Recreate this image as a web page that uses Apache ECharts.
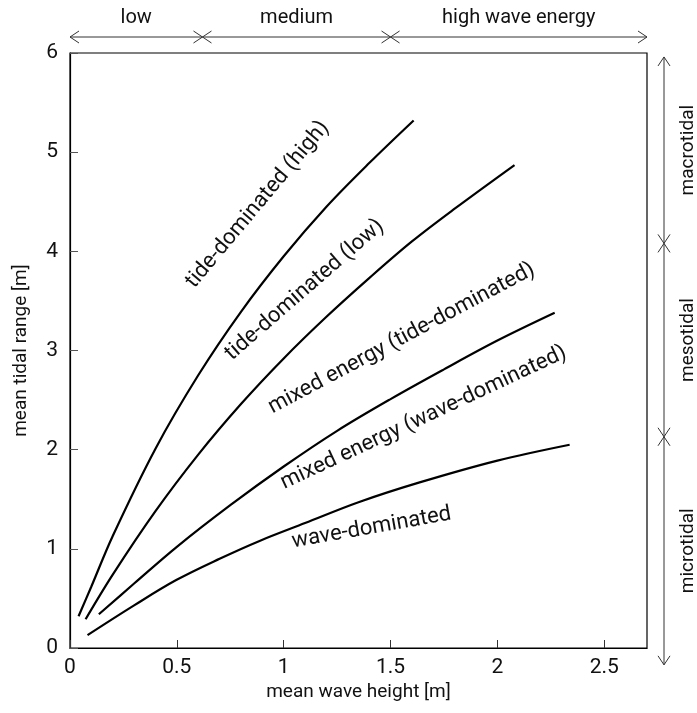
<!DOCTYPE html>
<html><head><meta charset="utf-8">
<script src="https://cdn.jsdelivr.net/npm/echarts@6/dist/echarts.min.js"></script>
<style>html,body{margin:0;padding:0;background:#fff}#c{width:697px;height:713px}</style>
</head><body><div id="c"></div>
<script>
// data (mean wave height [m], mean tidal range [m])
const tideHigh = [[0.04,0.32],[0.1,0.62],[0.2,1.13],[0.4,2.01],[0.6,2.75],[0.8,3.39],[1.0,3.95],[1.2,4.45],[1.4,4.89],[1.608,5.32]];
const tideLow = [[0.073,0.29],[0.2,0.74],[0.4,1.38],[0.6,1.95],[0.8,2.46],[1.0,2.92],[1.2,3.34],[1.4,3.73],[1.6,4.1],[1.8,4.43],[2.08,4.87]];
const mixedTide = [[0.135,0.34],[0.3,0.65],[0.5,1.02],[0.75,1.44],[1.0,1.83],[1.25,2.19],[1.5,2.51],[1.75,2.81],[2.0,3.1],[2.268,3.38]];
const mixedWave = [[0.082,0.13],[0.3,0.43],[0.497,0.685],[0.7,0.9],[0.887,1.08],[1.1,1.26],[1.35,1.47],[1.636,1.67],[2.0,1.89],[2.338,2.05]];
const xTicks = [0, 0.5, 1, 1.5, 2, 2.5];
const yTicks = [0, 1, 2, 3, 4, 5, 6];
const energyBreaks = [0, 0.62, 1.5, 2.7];
const energyNames = ['low', 'medium', 'high wave energy'];
const tidalBreaks = [5.96, 4.08, 2.13, -0.17];
const tidalNames = ['macrotidal', 'mesotidal', 'microtidal'];
const regionLabels = [
  {text:'tide-dominated (high)', at:[0.878,4.47], rot:50},
  {text:'tide-dominated (low)', at:[1.098,3.61], rot:41},
  {text:'mixed energy (tide-dominated)', at:[1.552,3.12], rot:28},
  {text:'mixed energy (wave-dominated)', at:[1.655,2.32], rot:25},
  {text:'wave-dominated', at:[1.411,1.21], rot:10}
];

const FONT = 'Roboto, "Noto Sans", sans-serif';
const chart = echarts.init(document.getElementById('c'));
function line(name, data){
  return {name, type:'line', data, smooth:0.35, showSymbol:false, symbol:'none',
    lineStyle:{color:'#000', width:2.2}, z:3};
}
chart.setOption({
  animation:false,
  backgroundColor:'#fff',
  grid:{left:70, right:50, top:53, bottom:65, show:true, borderColor:'#000', borderWidth:1.2},
  xAxis:{type:'value', min:0, max:2.7, interval:0.5,
    name:'mean wave height [m]', nameLocation:'middle', nameGap:33,
    nameTextStyle:{fontFamily:FONT, fontSize:19, color:'#111'},
    axisLine:{show:true, onZero:false, lineStyle:{color:'#000', width:1.2}},
    axisTick:{show:true, inside:true, length:8, lineStyle:{color:'#333'}},
    axisLabel:{fontFamily:FONT, fontSize:21, color:'#111', margin:9,
      formatter:v=> xTicks.includes(v) ? String(v) : '', showMaxLabel:false},
    splitLine:{show:false}},
  yAxis:{type:'value', min:0, max:6, interval:1,
    name:'mean tidal range [m]', nameLocation:'middle', nameGap:39,
    nameTextStyle:{fontFamily:FONT, fontSize:19, color:'#111'},
    axisLine:{show:true, lineStyle:{color:'#000', width:1.2}},
    axisTick:{show:true, inside:true, length:8, lineStyle:{color:'#555'}},
    axisLabel:{fontFamily:FONT, fontSize:21, color:'#111', margin:12,
      formatter:v=> yTicks.includes(v) ? String(v) : ''},
    splitLine:{show:false}},
  series:[line('tide-dominated (high)', tideHigh), line('tide-dominated (low)', tideLow),
    line('mixed energy (tide-dominated)', mixedTide), line('mixed energy (wave-dominated)', mixedWave)]
});

function px(p){ return chart.convertToPixel({gridIndex:0}, p); }
const g = [];
const stroke = {stroke:'#333', lineWidth:1};
const topY = 37;
for (let i=0;i<energyNames.length;i++){
  const a = px([energyBreaks[i],0])[0], b = px([energyBreaks[i+1],0])[0];
  g.push({type:'line', shape:{x1:a,y1:topY,x2:b,y2:topY}, style:stroke});
  g.push({type:'polyline', shape:{points:[[a+9,topY-6],[a,topY],[a+9,topY+6]]}, style:Object.assign({fill:null},stroke)});
  g.push({type:'polyline', shape:{points:[[b-9,topY-6],[b,topY],[b-9,topY+6]]}, style:Object.assign({fill:null},stroke)});
  g.push({type:'text', x:(a+b)/2, y:topY-19, style:{text:energyNames[i], font:'20px '+FONT, fill:'#111', align:'center', verticalAlign:'middle'}});
}
const rX = 664;
for (let i=0;i<tidalNames.length;i++){
  const a = px([0,tidalBreaks[i]])[1], b = px([0,tidalBreaks[i+1]])[1];
  g.push({type:'line', shape:{x1:rX,y1:a,x2:rX,y2:b}, style:stroke});
  g.push({type:'polyline', shape:{points:[[rX-6,a+9],[rX,a],[rX+6,a+9]]}, style:Object.assign({fill:null},stroke)});
  g.push({type:'polyline', shape:{points:[[rX-6,b-9],[rX,b],[rX+6,b-9]]}, style:Object.assign({fill:null},stroke)});
  g.push({type:'text', x:rX+24, y:(a+b)/2, rotation:Math.PI/2, style:{text:tidalNames[i], font:'19px '+FONT, fill:'#111', align:'center', verticalAlign:'middle'}});
}
regionLabels.forEach(l=>{
  const p = px(l.at);
  g.push({type:'text', x:p[0], y:p[1], rotation:l.rot*Math.PI/180, z:10,
    style:{text:l.text, font:'22px '+FONT, fill:'#111', align:'center', verticalAlign:'middle'}});
});
chart.setOption({graphic:{elements:g}});
</script></body></html>
